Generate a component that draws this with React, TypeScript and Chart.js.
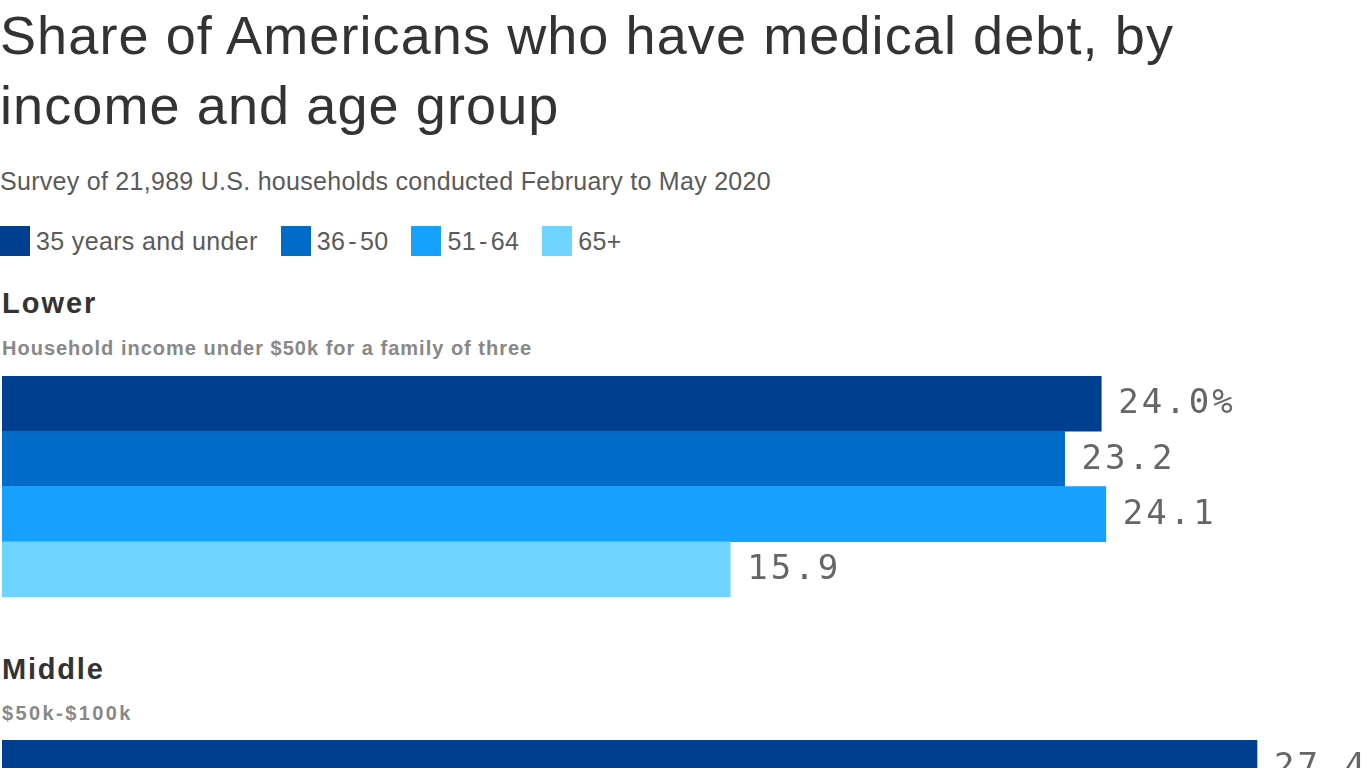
import React, { useEffect, useRef } from "react";
import { Chart, registerables } from "chart.js";

Chart.register(...registerables);

const ageGroups = ["35 years and under", "36-50", "51-64", "65+"];
const ageColors = ["#003F8F", "#006CC8", "#16A0FF", "#6FD4FF"];
const lowerValues = [24.0, 23.2, 24.1, 15.9];
// Only the first Middle bar is visible in the reference; the others are rough estimates.
const middleValues = [27.4, 22.6, 21.5, 13.1];

const X_MAX = 29.78;
const BAR_BLOCK_H = 221;
const CHART_W = 1364;

const labelPlugin = {
  id: "valueLabels",
  afterDatasetsDraw(chart: any) {
    const ctx = chart.ctx;
    const meta = chart.getDatasetMeta(0);
    const data = chart.data.datasets[0].data as number[];
    ctx.save();
    ctx.font = '34px "DejaVu Sans Mono"';
    try {
      (ctx as any).letterSpacing = "3px";
    } catch (e) {}
    ctx.fillStyle = "#666666";
    ctx.textBaseline = "middle";
    ctx.textAlign = "left";
    meta.data.forEach((bar: any, i: number) => {
      const txt = data[i].toFixed(1) + (i === 0 ? "%" : "");
      ctx.fillText(txt, bar.x + 17, bar.y + 1);
    });
    ctx.restore();
  },
};

function BarBlock({ values }: { values: number[] }) {
  const ref = useRef<HTMLCanvasElement>(null);
  useEffect(() => {
    if (!ref.current) return;
    const chart = new Chart(ref.current, {
      type: "bar",
      data: {
        labels: ageGroups,
        datasets: [
          {
            data: values,
            backgroundColor: ageColors,
            borderWidth: 0,
            categoryPercentage: 1,
            barPercentage: 1,
          },
        ],
      },
      options: {
        indexAxis: "y",
        animation: false,
        responsive: false,
        layout: { padding: 0 },
        plugins: { legend: { display: false }, tooltip: { enabled: false } },
        scales: {
          x: { display: false, min: 0, max: X_MAX },
          y: { display: false },
        },
      },
      plugins: [labelPlugin],
    });
    return () => chart.destroy();
  }, [values]);
  return <canvas ref={ref} width={CHART_W} height={BAR_BLOCK_H} style={{ display: "block" }} />;
}

function LegendLabel({ text }: { text: string }) {
  const parts = text.split("-");
  if (parts.length === 1) return <>{text}</>;
  return (
    <>
      {parts[0]}
      <span style={{ margin: "0 3px" }}>-</span>
      {parts.slice(1).join("-")}
    </>
  );
}

const font = "'Liberation Sans', Arial, sans-serif";

export default function App() {
  return (
    <div style={{ position: "relative", width: 1366, height: 1300, fontFamily: font, background: "#fff" }}>
      <style>{`body{margin:0;overflow:hidden;background:#fff}`}</style>
      <div style={{ position: "absolute", left: 0, top: 0, fontSize: 54, lineHeight: "70px", letterSpacing: "1.1px", color: "#333333", width: 1366, whiteSpace: "nowrap" }}>
        Share of Americans who have medical debt, by
        <br />
        income and age group
      </div>
      <div style={{ position: "absolute", left: 0, top: 166, fontSize: 25, lineHeight: "30px", letterSpacing: "0.28px", color: "#5a5a5a", whiteSpace: "nowrap" }}>
        Survey of 21,989 U.S. households conducted February to May 2020
      </div>
      <div style={{ position: "absolute", left: 0, top: 226, display: "flex", alignItems: "center", height: 30 }}>
        {ageGroups.map((g, i) => (
          <div key={g} style={{ display: "flex", alignItems: "center", marginRight: 23 }}>
            <div style={{ width: 30, height: 30, background: ageColors[i], marginRight: 6 }} />
            <span style={{ fontSize: 25, lineHeight: "30px", letterSpacing: "0.35px", color: "#5a5a5a", whiteSpace: "nowrap" }}>
              <LegendLabel text={g} />
            </span>
          </div>
        ))}
      </div>
      <div style={{ position: "absolute", left: 2, top: 286, fontSize: 29, lineHeight: "34px", letterSpacing: "2px", fontWeight: 700, color: "#333333" }}>
        Lower
      </div>
      <div style={{ position: "absolute", left: 2, top: 336, fontSize: 20, lineHeight: "24px", letterSpacing: "1px", fontWeight: 700, color: "#888888", whiteSpace: "nowrap" }}>
        Household income under $50k for a family of three
      </div>
      <div style={{ position: "absolute", left: 2, top: 376 }}>
        <BarBlock values={lowerValues} />
      </div>
      <div style={{ position: "absolute", left: 2, top: 652, fontSize: 29, lineHeight: "34px", letterSpacing: "1.8px", fontWeight: 700, color: "#333333" }}>
        Middle
      </div>
      <div style={{ position: "absolute", left: 2, top: 701, fontSize: 20, lineHeight: "24px", letterSpacing: "2.4px", fontWeight: 700, color: "#888888", whiteSpace: "nowrap" }}>
        $50k-$100k
      </div>
      <div style={{ position: "absolute", left: 2, top: 740 }}>
        <BarBlock values={middleValues} />
      </div>
    </div>
  );
}
